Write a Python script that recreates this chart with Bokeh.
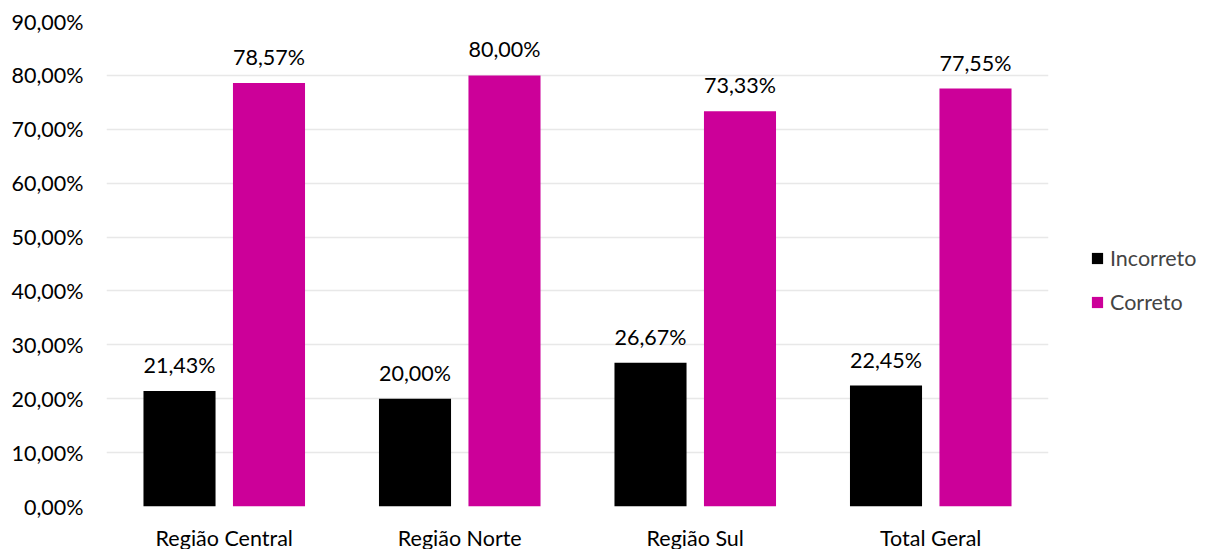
from bokeh.plotting import figure
from bokeh.models import ColumnDataSource, LabelSet, Legend, LegendItem, FixedTicker, CustomJSTickFormatter, FactorRange
from bokeh.core.properties import value
from bokeh.transform import dodge
from bokeh.embed import file_html
from bokeh.resources import INLINE

categories = ["Região Central", "Região Norte", "Região Sul", "Total Geral"]
incorreto = [21.43, 20.00, 26.67, 22.45]
correto = [78.57, 80.00, 73.33, 77.55]
y_ticks = [0, 10, 20, 30, 40, 50, 60, 70, 80, 90]

def fmt(v):
    return f"{v:.2f}".replace(".", ",") + "%"

src = ColumnDataSource(dict(
    cat=categories,
    inc=incorreto,
    cor=correto,
    inc_lbl=[fmt(v) for v in incorreto],
    cor_lbl=[fmt(v) for v in correto],
))

FONT = "Lato"
FS = "21.5px"
p = figure(frame_width=942, frame_height=485, x_range=FactorRange(*categories, range_padding=0),
           y_range=(0, 90), output_backend="svg", toolbar_location=None,
           min_border_left=106, min_border_right=0, min_border_top=21, min_border_bottom=40)
p.outline_line_color = None
p.background_fill_color = "white"

b1 = p.vbar(x=dodge("cat", -0.19, range=p.x_range), top="inc", width=0.306, source=src,
            fill_color="#000000", line_color=None)
b2 = p.vbar(x=dodge("cat", 0.19, range=p.x_range), top="cor", width=0.306, source=src,
            fill_color="#CC0099", line_color=None)

for col, lbl, off in (("inc", "inc_lbl", -0.19), ("cor", "cor_lbl", 0.19)):
    ls = LabelSet(x=dodge("cat", off, range=p.x_range), y=col, text=lbl, source=src,
                  text_align="center", text_baseline="middle", y_offset=26,
                  text_font=value(FONT), text_font_size=value(FS), text_color="#000000")
    p.add_layout(ls)

p.yaxis.ticker = FixedTicker(ticks=y_ticks)
p.yaxis.formatter = CustomJSTickFormatter(code="return tick.toFixed(2).replace('.', ',') + '%';")
p.yaxis.axis_line_color = None
p.yaxis.major_tick_line_color = None
p.yaxis.minor_tick_line_color = None
p.yaxis.major_label_text_font = FONT
p.yaxis.major_label_text_font_size = FS
p.yaxis.major_label_text_color = "#000000"
p.yaxis.major_label_standoff = 17

p.xaxis.axis_line_color = None
p.xaxis.major_tick_line_color = None
p.xaxis.major_label_text_font = FONT
p.xaxis.major_label_text_font_size = FS
p.xaxis.major_label_text_color = "#000000"
p.xaxis.major_label_text_line_height = 1.0
p.xaxis.major_label_standoff = 12

p.xgrid.grid_line_color = None
p.ygrid.ticker = FixedTicker(ticks=y_ticks)
p.ygrid.grid_line_color = "#E8E8E8"
p.ygrid.grid_line_width = 1.5

legend = Legend(items=[LegendItem(label="Incorreto", renderers=[b1]),
                       LegendItem(label="Correto", renderers=[b2])],
                location=(42, 191), border_line_color=None, background_fill_alpha=0,
                glyph_width=14, glyph_height=14, label_text_font=FONT,
                label_text_font_size=FS, label_standoff=6, spacing=18,
                label_height=24, padding=0, margin=0, label_width=100)
p.add_layout(legend, "right")

open("out.html", "w").write(file_html(p, INLINE))
